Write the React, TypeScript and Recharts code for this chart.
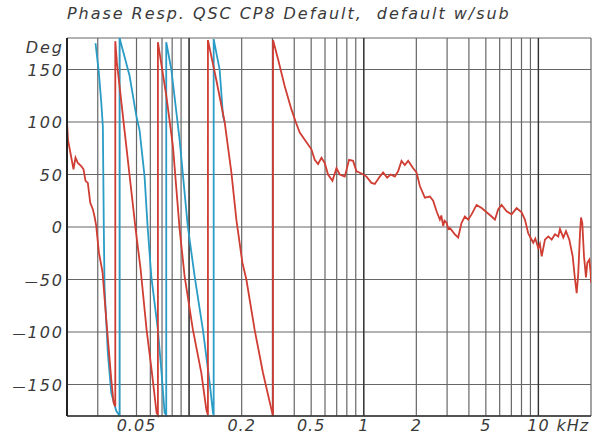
import { CartesianGrid, Line, LineChart, ReferenceLine, XAxis, YAxis } from 'recharts'

// Frequency in kHz, phase in degrees (wrapped to +/-180, the wraps are the vertical jumps).
const RED_FREQ = [
  0.02, 0.02026, 0.02179, 0.02237, 0.02306, 0.02412, 0.02486, 0.02553, 0.02632, 0.02717, 0.02811, 0.02875,
  0.0294, 0.03043, 0.03195, 0.03356, 0.03584, 0.03694, 0.0378, 0.0378, 0.03859, 0.04941, 0.05276, 0.05712,
  0.061, 0.06517, 0.0663, 0.0663, 0.07405, 0.0808, 0.08827, 0.09429, 0.1052, 0.1175, 0.1256, 0.1282, 0.1282,
  0.1432, 0.1598, 0.1746, 0.1865, 0.2019, 0.2128, 0.2374, 0.265, 0.2992, 0.3024, 0.3024, 0.3229, 0.3528,
  0.3854, 0.408, 0.43, 0.5016, 0.524, 0.5473, 0.5725, 0.5979, 0.6245, 0.662, 0.6978, 0.7289, 0.7787, 0.824,
  0.8687, 0.9086, 0.9705, 1.037, 1.107, 1.157, 1.236, 1.291, 1.361, 1.423, 1.506, 1.573, 1.645, 1.718, 1.795,
  1.918, 2.005, 2.095, 2.238, 2.39, 2.497, 2.611, 2.728, 2.78, 2.849, 2.9, 2.979, 3.05, 3.112, 3.324, 3.472,
  3.631, 3.792, 3.961, 4.143, 4.426, 4.728, 5.05, 5.394, 5.636, 5.886, 6.155, 6.575, 7.024, 7.502, 8.014,
  8.37, 8.742, 9.0, 9.34, 9.6, 9.977, 10.2, 10.44, 10.9, 11.39, 11.91, 12.44, 12.99, 13.29, 13.88, 14.38,
  15.02, 15.71, 16.2, 16.56, 16.91, 17.3, 17.53, 17.83, 18.24, 18.72, 19.05, 19.56, 19.92, 20,
]
const RED_PHASE = [
  101, 83, 55, 66, 61, 58, 55, 44, 42, 23, 17, 10,
  1, -24, -43, -88, -145, -167, -171, 177, 157, -2, -40, -98,
  -136, -177, -179, 176, 125, 77, -2, -47, -98, -139, -174, -179, 178,
  140, 100, 52, 7, -34, -50, -98, -139, -177, -180, 178, 160, 134,
  112, 100, 90, 74, 64, 60, 66, 61, 50, 44, 56, 50, 48, 64,
  63, 53, 51, 48, 42, 41, 48, 52, 47, 50, 48, 53, 63, 59, 63,
  56, 52, 39, 28, 29, 25, 15, 7, 11, 1, 6, 4, -2, -1, -7, -10,
  4, 10, 7, 12, 21, 18, 14, 10, 7, 17, 21, 15, 12, 18, 14,
  7, -6, -10, -15, -11, -20, -16, -28, -12, -9, -12, -7, -9, -2, -10, -4,
  -12, -28, -50, -63, -44, -6, 9, 4, -28, -48, -34, -31, -44, -53,
]

const BLUE_FREQ = [
  0.02913, 0.03043, 0.03141, 0.03208, 0.0325, 0.0328, 0.03426, 0.03584, 0.03827, 0.03972, 0.04, 0.04,
  0.04563, 0.04985, 0.05207, 0.05561, 0.05785, 0.06076, 0.06629, 0.06934, 0.07242, 0.074, 0.074,
  0.07911, 0.08827, 0.09809, 0.1076, 0.12, 0.1311, 0.137, 0.1383, 0.1383, 0.1496, 0.1563, 0.1598,
]
const BLUE_PHASE = [
  175, 147, 119, 96, -2, -57, -120, -158, -175, -179, -180, 180,
  144, 106, 92, 48, 1, -47, -98, -136, -177, -179, 176,
  150, 83, 2, -47, -98, -148, -177, -179, 179, 150, 106, 100,
]

const GRID_FREQS = [
  0.02, 0.03, 0.04, 0.05, 0.06, 0.07, 0.08, 0.09, 0.1, 0.2, 0.3, 0.4, 0.5, 0.6, 0.7, 0.8, 0.9, 1, 2, 3, 4, 5,
  6, 7, 8, 9, 10, 20,
]
const DECADES = [0.1, 1, 10]
const X_LABELS = [0.05, 0.2, 0.5, 1, 2, 5, 10]
const Y_TICKS = [-180, -150, -100, -50, 0, 50, 100, 150, 180]

const TITLE = 'Phase Resp. QSC CP8 Default,  default w/sub'

const FONT = "'DejaVu Sans', sans-serif"
const TEXT = '#3a3a3a'

const red = RED_FREQ.map((f, i) => ({ f, p: RED_PHASE[i] }))
const blue = BLUE_FREQ.map((f, i) => ({ f, p: BLUE_PHASE[i] }))

function XTick({ x, y, payload }: any) {
  const v = payload.value
  if (!X_LABELS.includes(v)) return null
  const style = { fontFamily: FONT, fontStyle: 'italic', fontSize: 16, fill: TEXT, letterSpacing: 1 }
  return (
    <g>
      <text x={x} y={y} dy={15} textAnchor="middle" style={style}>
        {String(v)}
      </text>
      {v === 10 && (
        <text x={x + 18} y={y} dy={15} style={style}>
          kHz
        </text>
      )}
    </g>
  )
}

function YTick({ x, y, payload }: any) {
  const v = payload.value
  if (v === -180) return null
  const style = { fontFamily: FONT, fontStyle: 'italic', fontSize: 16, fill: TEXT, letterSpacing: 2 }
  if (v === 180) {
    return (
      <text x={x - 3} y={y} dy={15} textAnchor="end" style={style}>
        Deg
      </text>
    )
  }
  return (
    <text x={x - 3} y={y} dy={6} textAnchor="end" style={style}>
      {v < 0 && <tspan style={{ fontSize: 13 }}>{'\u2014'}</tspan>}
      {String(Math.abs(v))}
    </text>
  )
}

export default function App() {
  return (
    <div style={{ position: 'relative', width: 602, height: 435, background: '#fff' }}>
      <style>{'body{margin:0;background:#fff}'}</style>
      <div
        style={{
          position: 'absolute',
          left: 67,
          top: 5,
          fontFamily: FONT,
          fontStyle: 'italic',
          fontSize: 16,
          lineHeight: '18px',
          color: TEXT,
          letterSpacing: 1.95,
          whiteSpace: 'pre',
        }}
      >
        {TITLE}
      </div>
      <LineChart width={602} height={435} margin={{ top: 38, right: 11, bottom: 0, left: 0 }}>
        <CartesianGrid stroke="#666" strokeWidth={1.2} />
        <XAxis
          dataKey="f"
          type="number"
          scale="log"
          domain={[0.02, 20]}
          ticks={GRID_FREQS}
          interval={0}
          allowDataOverflow
          height={19}
          tickSize={0}
          tickMargin={0}
          tickLine={false}
          axisLine={{ stroke: '#333', strokeWidth: 1.5 }}
          tick={<XTick />}
        />
        <YAxis
          type="number"
          domain={[-180, 180]}
          ticks={Y_TICKS}
          interval={0}
          width={67}
          tickSize={0}
          tickMargin={0}
          tickLine={false}
          axisLine={{ stroke: '#222', strokeWidth: 2 }}
          tick={<YTick />}
        />
        {DECADES.map((d) => (
          <ReferenceLine key={d} x={d} stroke="#333" strokeWidth={1.3} />
        ))}
        <Line
          data={blue}
          dataKey="p"
          stroke="#2a9cc6"
          strokeWidth={1.8}
          dot={false}
          isAnimationActive={false}
        />
        <Line
          data={red}
          dataKey="p"
          stroke="#cf3d33"
          strokeWidth={1.8}
          dot={false}
          isAnimationActive={false}
        />
      </LineChart>
    </div>
  )
}
